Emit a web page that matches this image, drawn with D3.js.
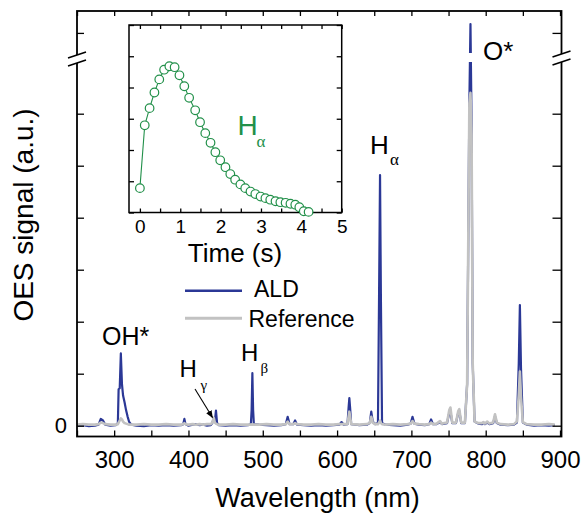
<!DOCTYPE html>
<html><head><meta charset="utf-8">
<script src="https://cdn.jsdelivr.net/npm/d3@7"></script>
<style>
body{margin:0;background:#fff;}
svg{display:block;font-family:"Liberation Sans",Arial,Helvetica,sans-serif;}
</style></head>
<body><svg id="c" width="586" height="514"></svg>
<script>
// ---- data ----
const wavelength = [250,258,266,274,279,282,285,288,295,302,305,306,307.5,309,310.5,312,314,316,318,320,323,330,340,350,360,370,380,390,393,394.5,396,400,406,410,415,420,425,430,432,434,435.5,437,438.5,441,450,460,470,480,484,485,486,487,488,495,505,515,525,531,533.5,536,541,543.5,546,555,565,575,585,595,603,606,609,614,615.5,616.5,617.5,619,630,640,644,646,648,651,655,656.5,657.8,659,660.5,665,675,685,695,699,701.5,704,710,718,724,726.5,729,734,738.5,741,748,751,752.5,755,760,763,764.5,767,772,775,776.5,778,779.5,781,782.5,785,790,795,797,799,802,805,810,812.5,815,820,830,838,842,844.5,846,847.5,850,855,865,875,885,893];
const ald = [0.00,0.01,-0.01,0.00,0.02,0.13,0.10,0.02,0.00,0.01,0.05,0.70,0.72,1.39,0.80,0.58,0.45,0.30,0.18,0.08,0.02,0.00,-0.01,0.01,0.00,0.01,0.00,0.01,0.03,0.13,0.03,0.00,0.02,0.03,0.01,0.02,0.00,0.01,0.05,0.14,0.08,0.29,0.05,0.01,0.00,0.01,0.00,0.01,0.03,0.30,1.01,0.30,0.03,0.02,0.01,0.00,0.01,0.03,0.17,0.03,0.03,0.10,0.02,0.01,0.00,0.01,0.00,0.01,0.02,0.07,0.02,0.03,0.35,0.53,0.35,0.03,0.01,0.02,0.05,0.27,0.08,0.03,0.05,2.50,4.82,2.40,0.05,0.02,0.01,0.00,0.02,0.04,0.17,0.04,0.02,0.01,0.03,0.12,0.03,0.03,0.07,0.03,0.05,0.25,0.28,0.05,0.05,0.25,0.28,0.05,0.05,0.80,3.50,6.20,20.17,5.80,1.20,0.08,0.04,0.03,0.06,0.03,0.06,0.03,0.05,0.18,0.05,0.02,0.01,0.02,0.06,1.20,2.32,1.10,0.06,0.02,0.00,0.01,0.00,0.01];
const reference = [0.02,0.03,0.02,0.02,0.03,0.06,0.05,0.03,0.02,0.02,0.03,0.06,0.10,0.14,0.12,0.08,0.05,0.04,0.03,0.02,0.02,0.02,0.03,0.02,0.02,0.03,0.02,0.02,0.03,0.05,0.03,0.02,0.03,0.02,0.03,0.02,0.03,0.03,0.06,0.15,0.06,0.04,0.03,0.02,0.02,0.03,0.02,0.02,0.02,0.02,0.03,0.02,0.02,0.02,0.03,0.02,0.02,0.03,0.08,0.03,0.03,0.05,0.03,0.02,0.02,0.03,0.02,0.02,0.03,0.03,0.03,0.03,0.18,0.27,0.18,0.03,0.02,0.03,0.05,0.17,0.06,0.03,0.03,0.06,0.10,0.05,0.03,0.02,0.03,0.02,0.03,0.04,0.09,0.04,0.03,0.02,0.03,0.06,0.03,0.04,0.09,0.04,0.06,0.30,0.35,0.06,0.06,0.28,0.32,0.06,0.06,0.80,3.50,6.20,6.40,5.60,1.20,0.08,0.05,0.05,0.07,0.04,0.08,0.04,0.06,0.22,0.06,0.03,0.02,0.03,0.08,0.60,1.04,0.55,0.07,0.03,0.02,0.02,0.03,0.02];
const xTicks = [250,300,350,400,450,500,550,600,650,700,750,800,850,900];
const yTicks = [0,1,2,3,4,5,6,20];
const insetTime = [0,0.12,0.24,0.36,0.48,0.60,0.73,0.86,0.98,1.10,1.22,1.37,1.49,1.62,1.75,1.87,1.99,2.12,2.24,2.36,2.49,2.61,2.74,2.86,2.99,3.11,3.23,3.36,3.48,3.61,3.73,3.85,3.95,4.06,4.18];
const insetHalpha = [0.78,2.79,3.34,3.84,4.26,4.57,4.68,4.65,4.39,4.04,3.67,3.27,2.89,2.54,2.23,1.93,1.67,1.45,1.23,1.05,0.90,0.78,0.67,0.59,0.51,0.46,0.41,0.36,0.33,0.31,0.28,0.25,0.17,0.04,0.02];
const insetXTicks = [0,0.5,1,1.5,2,2.5,3,3.5,4,4.5,5];
const insetYTicks = [0,1,2,3,4,5,6];

// ---- layout ----
const L=77, R=561.5, T=11, B=436.5;
const svg = d3.select("#c");
const x = d3.scaleLinear().domain([250,902]).range([L,R]);
const y = d3.scaleLinear().domain([0,7,19.5,20.42]).range([425.7,61.7,59,11]);
const ALDc = "#2b3896", REFc = "#c2c2c2", GREEN = "#22904a";

// clip (broken axis gap)
const defs = svg.append("defs");
const cp = defs.append("clipPath").attr("id","plotclip");
cp.append("rect").attr("x",L).attr("y",T).attr("width",R-L).attr("height",53-T);
cp.append("rect").attr("x",L).attr("y",62).attr("width",R-L).attr("height",B-62);

const line = d3.line().x((d,i)=>x(wavelength[i])).y(d=>y(d));
const g = svg.append("g").attr("clip-path","url(#plotclip)");
g.append("path").datum(ald).attr("d",line).attr("fill","none").attr("stroke",ALDc).attr("stroke-width",2.2).attr("stroke-linejoin","round");
g.append("path").datum(reference).attr("d",line).attr("fill","none").attr("stroke",REFc).attr("stroke-width",2.6).attr("stroke-linejoin","round");

// axes
const fmtX = d => d%100===0 && d>250 ? d : "";
const ax = svg.append("g").attr("transform",`translate(0,${B})`)
  .call(d3.axisBottom(x).tickValues(xTicks).tickSize(-6).tickPadding(14.5).tickFormat(fmtX));
svg.append("g").attr("transform",`translate(0,${T})`)
  .call(d3.axisTop(x).tickValues(xTicks).tickSize(-5).tickFormat(""));
const ay = svg.append("g").attr("transform",`translate(${L},0)`)
  .call(d3.axisLeft(y).tickValues(yTicks).tickSize(-7).tickPadding(10).tickFormat(d=>d===0?"0":""));
svg.append("g").attr("transform",`translate(${R},0)`)
  .call(d3.axisRight(y).tickValues(yTicks).tickSize(-9).tickFormat(""));
svg.selectAll(".domain").remove();
svg.selectAll(".tick line").attr("stroke","#000").attr("stroke-width",1.5);
ax.selectAll("text").attr("font-size",24).attr("font-family","Liberation Sans, Arial, sans-serif").attr("fill","#000");
ay.selectAll("text").attr("font-size",22).attr("font-family","Liberation Sans, Arial, sans-serif").attr("fill","#000");

// frame
svg.append("rect").attr("x",L).attr("y",T).attr("width",R-L).attr("height",B-T)
  .attr("fill","none").attr("stroke","#000").attr("stroke-width",1.8);

// break marks
[[L,55,63],[R,54,62]].forEach(([bx,y1,y2])=>{
  svg.append("rect").attr("x",bx-3).attr("y",y1).attr("width",6).attr("height",y2-y1).attr("fill","#fff");
  [y1,y2].forEach(yy=>{
    svg.append("line").attr("x1",bx-9).attr("y1",yy+3).attr("x2",bx+9).attr("y2",yy-3)
      .attr("stroke","#000").attr("stroke-width",1.6);
  });
});

// axis titles
svg.append("text").attr("x",317.5).attr("y",507).attr("text-anchor","middle").attr("font-size",27).text("Wavelength (nm)");
svg.append("text").attr("transform","translate(33,215) rotate(-90)").attr("text-anchor","middle").attr("font-size",28).text("OES signal (a.u.)");

// annotations
const serif = "Liberation Serif, DejaVu Serif, serif";
function label(xx,yy,main,sub,subdx,subdy,size,subsize,color){
  const t = svg.append("text").attr("x",xx).attr("y",yy).attr("font-size",size).attr("fill",color||"#000").text(main);
  if(sub) svg.append("text").attr("x",xx+subdx).attr("y",yy+subdy).attr("font-size",subsize).attr("font-family",serif).attr("fill",color||"#000").text(sub);
}
label(370,154,"H","α",20,11,26,17);
svg.append("text").attr("x",483).attr("y",60).attr("font-size",26).text("O*");
svg.append("text").attr("x",102).attr("y",345).attr("font-size",25).text("OH*");
label(179.5,377,"H","γ",21,13,24,15);
label(241,361,"H","β",19.5,12,24,15);
// arrow
defs.append("marker").attr("id","arr").attr("viewBox","0 0 10 10").attr("refX",9).attr("refY",5)
  .attr("markerWidth",7).attr("markerHeight",7).attr("orient","auto")
  .append("path").attr("d","M0,1 L10,5 L0,9 z").attr("fill","#000");
svg.append("line").attr("x1",195).attr("y1",389).attr("x2",212.5).attr("y2",417.5)
  .attr("stroke","#000").attr("stroke-width",1.1).attr("marker-end","url(#arr)");

// legend
const leg = [["ALD",ALDc,290.7,297,254,2.5],["Reference",REFc,318.3,327,248.5,3]];
leg.forEach(([name,col,ly,ty,tx,w])=>{
  svg.append("line").attr("x1",185).attr("x2",242).attr("y1",ly).attr("y2",ly).attr("stroke",col).attr("stroke-width",w);
  svg.append("text").attr("x",tx).attr("y",ty).attr("font-size",23).text(name);
});

// ---- inset ----
const iL=129, iR=341.7, iT=25, iB=212.5;
const ix = d3.scaleLinear().domain([-0.27,5]).range([iL,iR]);
const iy = d3.scaleLinear().domain([0,6]).range([iB,iT]);
svg.append("rect").attr("x",iL).attr("y",iT).attr("width",iR-iL).attr("height",iB-iT).attr("fill","#fff");
const ib = svg.append("g").attr("transform",`translate(0,${iB})`)
  .call(d3.axisBottom(ix).tickValues(insetXTicks).tickSize(-4).tickPadding(7).tickFormat(d=>Number.isInteger(d)?d:""));
svg.append("g").attr("transform",`translate(0,${iT})`)
  .call(d3.axisTop(ix).tickValues(insetXTicks).tickSize(-4).tickFormat(""));
svg.append("g").attr("transform",`translate(${iL},0)`)
  .call(d3.axisLeft(iy).tickValues(insetYTicks).tickSize(-5).tickFormat(""));
svg.append("g").attr("transform",`translate(${iR},0)`)
  .call(d3.axisRight(iy).tickValues(insetYTicks).tickSize(-5).tickFormat(""));
svg.selectAll(".domain").remove();
svg.selectAll(".tick line").attr("stroke","#000").attr("stroke-width",1.3);
ib.selectAll("text").attr("font-size",19).attr("font-family","Liberation Sans, Arial, sans-serif").attr("fill","#000");
svg.append("rect").attr("x",iL).attr("y",iT).attr("width",iR-iL).attr("height",iB-iT)
  .attr("fill","none").attr("stroke","#000").attr("stroke-width",1.5);
const il = d3.line().x((d,i)=>ix(insetTime[i])).y(d=>iy(d));
svg.append("path").datum(insetHalpha).attr("d",il).attr("fill","none").attr("stroke",GREEN).attr("stroke-width",1.1);
svg.append("g").selectAll("circle").data(insetHalpha).join("circle")
  .attr("cx",(d,i)=>ix(insetTime[i])).attr("cy",d=>iy(d)).attr("r",4.3)
  .attr("fill","#fff").attr("stroke",GREEN).attr("stroke-width",1.2);
label(237.5,135,"H","α",19,12,28,17,GREEN);
svg.append("text").attr("x",235).attr("y",261.5).attr("text-anchor","middle").attr("font-size",26).text("Time (s)");
</script></body></html>
